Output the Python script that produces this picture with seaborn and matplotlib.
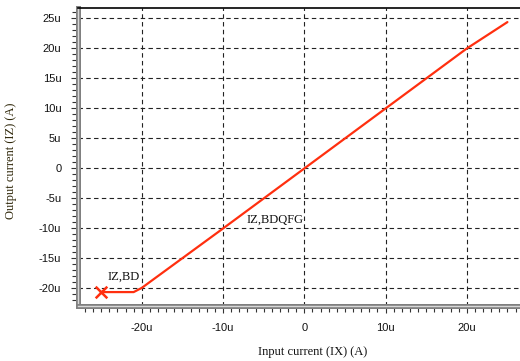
import numpy as np
import pandas as pd
import matplotlib
matplotlib.use("Agg")
import matplotlib.pyplot as plt
import matplotlib.patheffects as pe
from matplotlib.ticker import FuncFormatter, MultipleLocator
import seaborn as sns

# Transfer curve: output current IZ vs input current IX (in microamps)
ix_u = [-25.0, -21.0, -20.0, -10.0, 0.0, 10.0, 20.0, 25.0]
iz_u = [-20.6, -20.6, -19.9, -10.0, 0.0, 10.0, 20.0, 24.4]
x_ticks_u = [-20, -10, 0, 10, 20]
y_ticks_u = [-20, -15, -10, -5, 0, 5, 10, 15, 20, 25]

df = pd.DataFrame({"IX": np.array(ix_u) * 1e-6, "IZ": np.array(iz_u) * 1e-6})

sns.set_theme(style="white")
plt.rcParams["font.family"] = ["Liberation Sans", "DejaVu Sans"]

fig = plt.figure(figsize=(5.2, 3.61), dpi=100)
ax = fig.add_axes([78 / 520, 1 - 306 / 361, 442 / 520, 298 / 361])

line_color = "#ff2f0f"
sns.lineplot(data=df, x="IX", y="IZ", ax=ax, color=line_color, linewidth=1.6,
             sort=False, estimator=None)
sns.scatterplot(data=df.iloc[:1], x="IX", y="IZ", ax=ax, marker="x",
                color=line_color, s=70, linewidth=1.8, zorder=5)

ax.set_xlim(-27.85e-6, 26.55e-6)
ax.set_ylim(-22.92e-6, 26.75e-6)

fmt = FuncFormatter(lambda v, p: "0" if abs(v) < 1e-12 else f"{v * 1e6:.0f}u")
ax.xaxis.set_major_locator(MultipleLocator(10e-6))
ax.yaxis.set_major_locator(MultipleLocator(5e-6))
ax.xaxis.set_minor_locator(MultipleLocator(1e-6))
ax.yaxis.set_minor_locator(MultipleLocator(1e-6))
ax.xaxis.set_major_formatter(fmt)
ax.yaxis.set_major_formatter(fmt)

ax.tick_params(axis="both", which="both", direction="out", color="#333333",
               width=0.8, labelsize=8, labelcolor="#111111")
ax.tick_params(axis="both", which="major", length=5, pad=7)
ax.tick_params(axis="both", which="minor", length=4)
ax.tick_params(left=True, bottom=True, which="both")

ax.grid(True, which="major", color="#222222", linestyle=(0, (4, 3)), linewidth=0.8)

for side in ("left", "bottom"):
    sp = ax.spines[side]
    sp.set_visible(True)
    sp.set_color("#d8d8d8")
    sp.set_linewidth(1.0)
    sp.set_path_effects([pe.Stroke(linewidth=3.6, foreground="#808080"), pe.Normal()])
ax.spines["top"].set_visible(True)
ax.spines["top"].set_color("black")
ax.spines["top"].set_linewidth(1.2)
ax.spines["right"].set_visible(False)

serif = ["Liberation Serif", "DejaVu Serif"]
ax.set_xlabel("Input current (IX) (A)", family=serif, fontsize=9, color="#111111")
ax.set_ylabel("Output current (IZ) (A)", family=serif, fontsize=9, color="#2e2608")
ax.xaxis.set_label_coords((313 - 78) / 442, -0.135)
ax.yaxis.set_label_coords(-0.138, 0.487)

ax.text(-24.25e-6, -18.1e-6, "IZ,BD", family=serif, fontsize=9,
        ha="left", va="center", color="#111111")
ax.text(-7.1e-6, -8.6e-6, "IZ,BDQFG", family=serif, fontsize=9,
        ha="left", va="center", color="#111111")

fig.savefig("out.png", dpi=100)
